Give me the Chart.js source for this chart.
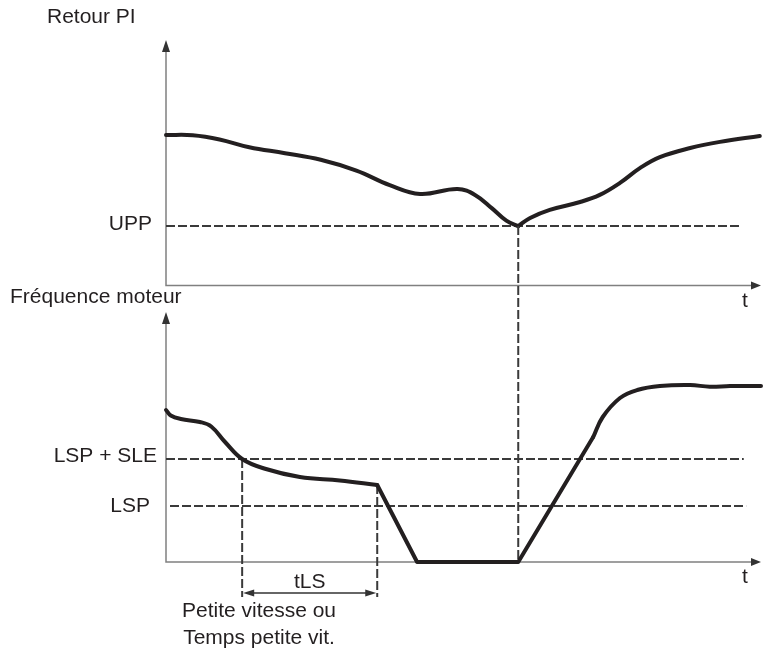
<!DOCTYPE html>
<html lang="fr">
<head>
<meta charset="utf-8">
<title>Retour PI / Fréquence moteur</title>
<script src="https://cdn.jsdelivr.net/npm/chart.js@4/dist/chart.umd.min.js"></script>
<style>
  html, body { margin: 0; padding: 0; background: #fff; }
  #wrap { position: relative; width: 763px; height: 649px; }
  #wrap canvas { position: absolute; left: 0; top: 0; }
</style>
</head>
<body>
<div id="wrap">
  <canvas id="retourChart" width="763" height="649"></canvas>
  <canvas id="freqChart" width="763" height="649"></canvas>
</div>
<script>
// Temps (0..100) commun aux deux courbes
const retourT = [0, 4.5, 9, 14, 20, 26, 32, 37.6, 42.7, 49.0, 52.0, 54.8, 57.2, 59.2,
                 61.2, 64.5, 69.6, 72.9, 76.3, 79.7, 83.0, 88.1, 93.1, 99.8];
const retourV = [61.3, 61.2, 59.5, 56.3, 53.9, 51.2, 46.8, 40.9, 37.3, 39.3, 36.8, 31.4, 26.4, 24.2,
                 27.5, 30.8, 34.0, 36.9, 41.8, 47.9, 52.3, 56.0, 58.5, 60.9];

const freqT = [0, 0.8, 2.5, 5.7, 7.6, 10, 12.8, 16.5, 22.5, 29.2, 35.5,
               42.2, 59.2, 71.8, 73.4, 76.3, 79.2, 83.0, 88.1, 91.4, 94.8, 100];
const freqV = [60.8, 58.6, 57.2, 56.0, 54.2, 47.8, 41.2, 37.4, 34.0, 32.6, 30.8,
               0, 0, 50.0, 58.0, 65.6, 68.8, 70.4, 70.8, 70.1, 70.4, 70.4];

// Seuils
const UPP = 24.2;
const LSP = 22.4;
const LSP_SLE = 41.2;

// Instants remarquables
const tReveil = 59.2;   // retour PI = UPP -> redémarrage
const tSeuil = 12.8;    // passage sous LSP + SLE
const tFinLS = 35.5;    // fin de tLS
const tRampe = 71.8;    // fin de la rampe d'accélération

const FONT = '21px "Liberation Sans", Arial, sans-serif';
const INK = '#231f20';
const AXIS = '#808080';
const DASH = '#3a3a3a';

function pts(xs, ys, from, to) {
    const out = [];
    for (let i = from; i <= to; i++) out.push({ x: xs[i], y: ys[i] });
    return out;
}

function curve(data, smooth) {
    return {
        data: data,
        borderColor: INK,
        borderWidth: 4,
        pointRadius: 0,
        fill: false,
        tension: smooth ? 0.4 : 0,
        borderCapStyle: 'round',
        borderJoinStyle: 'round',
        clip: false
    };
}

function dashed(ctx, x0, y0, x1, y1) {
    ctx.save();
    ctx.strokeStyle = DASH;
    ctx.lineWidth = 2;
    ctx.setLineDash([9, 3]);
    ctx.beginPath();
    ctx.moveTo(x0, y0);
    ctx.lineTo(x1, y1);
    ctx.stroke();
    ctx.restore();
}

function arrowHead(ctx, x, y, dir, len, half) {
    ctx.save();
    ctx.fillStyle = '#333';
    ctx.beginPath();
    ctx.moveTo(x, y);
    if (dir === 'up') { ctx.lineTo(x - half, y + len); ctx.lineTo(x + half, y + len); }
    if (dir === 'right') { ctx.lineTo(x - len, y - half); ctx.lineTo(x - len, y + half); }
    if (dir === 'left') { ctx.lineTo(x + len, y - half); ctx.lineTo(x + len, y + half); }
    ctx.closePath();
    ctx.fill();
    ctx.restore();
}

function text(ctx, str, x, y, align) {
    ctx.save();
    ctx.font = FONT;
    ctx.fillStyle = INK;
    ctx.textAlign = align || 'left';
    ctx.textBaseline = 'alphabetic';
    ctx.fillText(str, x, y);
    ctx.restore();
}

// Axes fléchés, seuils et libellés de chaque panneau
const axesPlugin = {
    id: 'axesFleches',
    beforeDatasetsDraw(chart, args, opts) {
        const ctx = chart.ctx;
        const a = chart.chartArea;
        ctx.save();
        ctx.strokeStyle = AXIS;
        ctx.lineWidth = 1.5;
        ctx.beginPath();
        ctx.moveTo(a.left, a.top + 8);
        ctx.lineTo(a.left, a.bottom);
        ctx.lineTo(a.right - 6, a.bottom);
        ctx.stroke();
        ctx.restore();
        arrowHead(ctx, a.left, a.top, 'up', 12, 4);
        arrowHead(ctx, a.right, a.bottom, 'right', 10, 4);

        text(ctx, opts.title, opts.titleX, opts.titleY);
        text(ctx, 't', a.right - 19, a.bottom + 21);

        const x = chart.scales.x, y = chart.scales.y;
        (opts.seuils || []).forEach(s => {
            const py = y.getPixelForValue(s.value);
            dashed(ctx, a.left + s.gap, py, x.getPixelForValue(s.end), py);
            text(ctx, s.label, s.labelX, py + s.dy, 'right');
        });
        if (opts.draw) opts.draw(chart);
    }
};

Chart.register(axesPlugin);

const baseOptions = (padding, panel) => ({
    responsive: false,
    animation: false,
    devicePixelRatio: 1,
    layout: { padding: padding },
    scales: {
        x: { type: 'linear', min: 0, max: 100, display: false },
        y: { type: 'linear', min: 0, max: 100, display: false }
    },
    plugins: {
        legend: { display: false },
        tooltip: { enabled: false },
        axesFleches: panel
    }
});

const kinkR = retourT.indexOf(tReveil);
const retourChart = new Chart(document.getElementById('retourChart'), {
    type: 'line',
    data: {
        datasets: [
            curve(pts(retourT, retourV, 0, kinkR), true),
            curve(pts(retourT, retourV, kinkR, retourT.length - 1), true)
        ]
    },
    options: baseOptions({ left: 166, right: 2, top: 40, bottom: 363.5 }, {
        title: 'Retour PI', titleX: 47, titleY: 23,
        seuils: [{ value: UPP, label: 'UPP', labelX: 152, dy: 4, gap: 0, end: 96.3 }]
    })
});

const iFin = freqT.indexOf(tFinLS);
const iRampe = freqT.indexOf(tRampe);
const freqChart = new Chart(document.getElementById('freqChart'), {
    type: 'line',
    data: {
        datasets: [
            curve(pts(freqT, freqV, 0, iFin), true),
            curve(pts(freqT, freqV, iFin, iRampe), false),
            curve(pts(freqT, freqV, iRampe, freqT.length - 1), true)
        ]
    },
    options: baseOptions({ left: 166, right: 2, top: 312, bottom: 87 }, {
        title: 'Fréquence moteur', titleX: 10, titleY: 303,
        seuils: [
            { value: LSP_SLE, label: 'LSP + SLE', labelX: 157, dy: 3, gap: 0, end: 97.1 },
            { value: LSP, label: 'LSP', labelX: 150, dy: 6, gap: 4, end: 97.5 }
        ],
        draw(chart) {
            const ctx = chart.ctx;
            const a = chart.chartArea;
            const x = chart.scales.x, y = chart.scales.y;

            // réveil : retour PI = UPP
            const xr = x.getPixelForValue(tReveil);
            dashed(ctx, xr, retourChart.scales.y.getPixelForValue(UPP), xr, a.bottom);

            // tLS
            const x0 = x.getPixelForValue(tSeuil), x1 = x.getPixelForValue(tFinLS);
            dashed(ctx, x0, y.getPixelForValue(LSP_SLE), x0, a.bottom + 35);
            dashed(ctx, x1, y.getPixelForValue(freqV[iFin]), x1, a.bottom + 35);
            const ya = a.bottom + 31;
            ctx.save();
            ctx.strokeStyle = '#333';
            ctx.lineWidth = 1.5;
            ctx.beginPath();
            ctx.moveTo(x0 + 6, ya);
            ctx.lineTo(x1 - 6, ya);
            ctx.stroke();
            ctx.restore();
            arrowHead(ctx, x0 + 1, ya, 'left', 11, 3.5);
            arrowHead(ctx, x1 - 1, ya, 'right', 11, 3.5);
            text(ctx, 'tLS', (x0 + x1) / 2, a.bottom + 26, 'center');
            text(ctx, 'Petite vitesse ou', 259, a.bottom + 55, 'center');
            text(ctx, 'Temps petite vit.', 259, a.bottom + 82, 'center');
        }
    })
});
</script>
</body>
</html>
